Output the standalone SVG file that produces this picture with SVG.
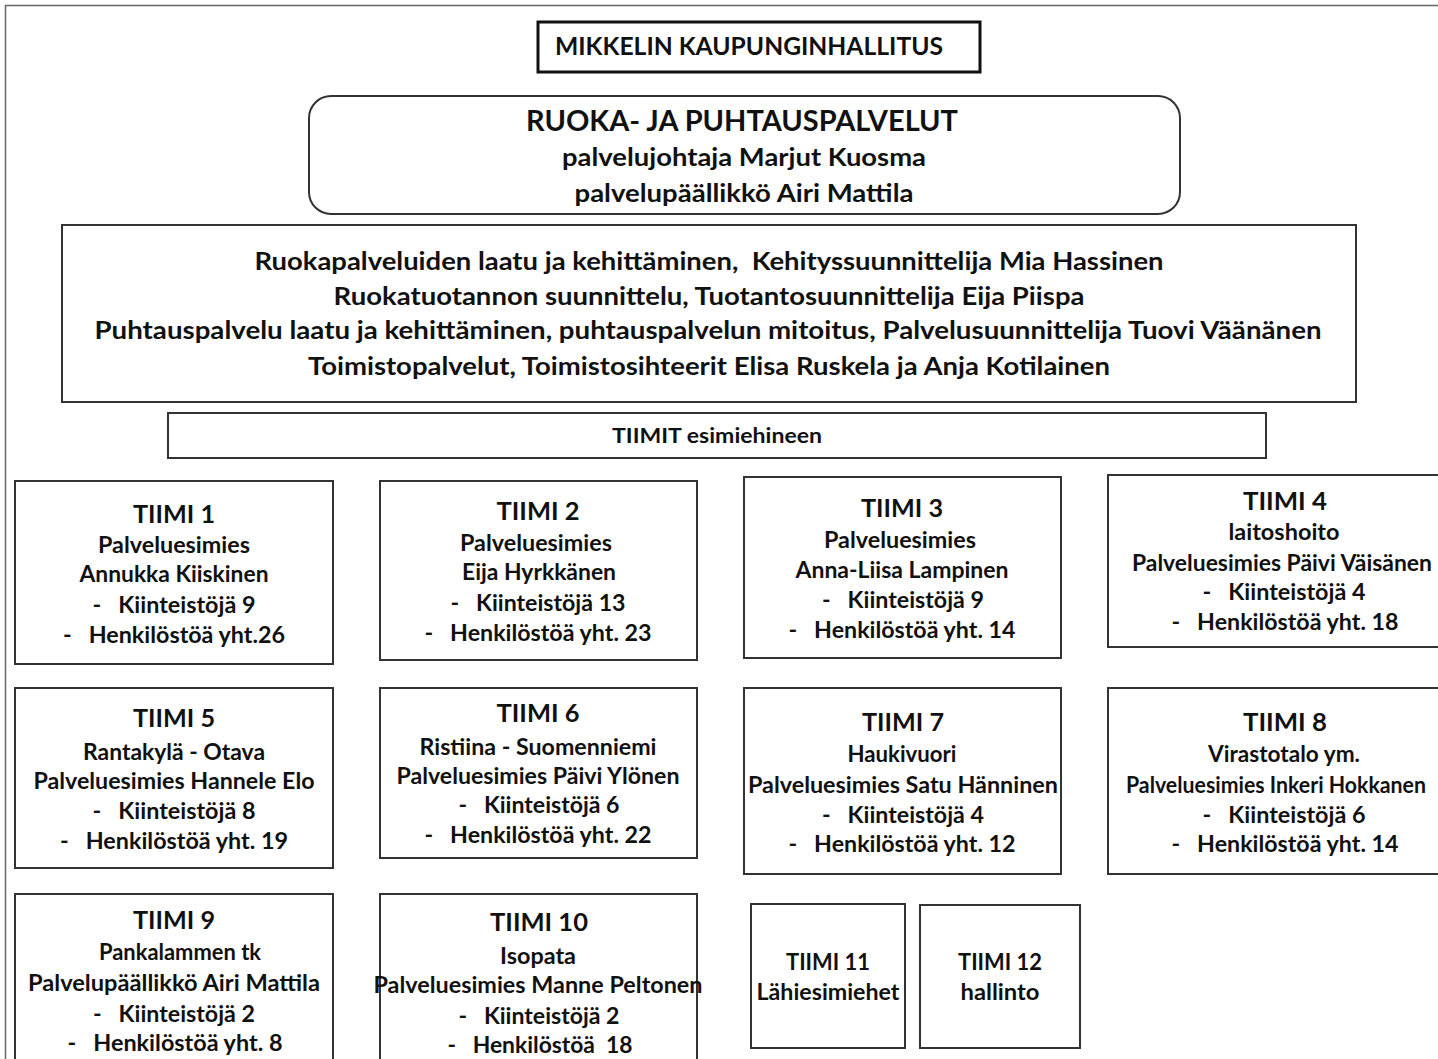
<svg xmlns="http://www.w3.org/2000/svg" width="1438" height="1059" viewBox="0 0 1438 1059">
<style>
text{font-family:Lato,"Liberation Sans",sans-serif;font-weight:bold;fill:#111;text-anchor:middle;white-space:pre}
.box{fill:#fff;stroke:#333;stroke-width:2}
.t{font-size:24px}
.s{font-size:23px}
.h{font-size:25px}
</style>
<rect width="1438" height="1059" fill="#fff"/>
<path d="M5.5 1059V5.5H1438" fill="none" stroke="#666" stroke-width="1.5"/>
<g id="kaupunginhallitus">
<rect x="538" y="22" width="442" height="50" fill="#fff" stroke="#111" stroke-width="3"/>
<text x="749" y="55" class="t" textLength="388" lengthAdjust="spacingAndGlyphs">MIKKELIN KAUPUNGINHALLITUS</text>
</g>
<g id="ruoka">
<rect x="309" y="96" width="871" height="118" rx="22" class="box"/>
<text x="742" y="131" style="font-size:29px" textLength="432" lengthAdjust="spacingAndGlyphs">RUOKA- JA PUHTAUSPALVELUT</text>
<text x="744" y="166" class="t" textLength="364" lengthAdjust="spacingAndGlyphs">palvelujohtaja Marjut Kuosma</text>
<text x="744" y="202" class="t" textLength="339" lengthAdjust="spacingAndGlyphs">palvelupäällikkö Airi Mattila</text>
</g>
<g id="suunnittelu">
<rect x="62" y="225" width="1294" height="177" class="box"/>
<text x="709" y="270" class="t" textLength="909" lengthAdjust="spacingAndGlyphs">Ruokapalveluiden laatu ja kehittäminen,  Kehityssuunnittelija Mia Hassinen</text>
<text x="709" y="305" class="t" textLength="751" lengthAdjust="spacingAndGlyphs">Ruokatuotannon suunnittelu, Tuotantosuunnittelija Eija Piispa</text>
<text x="708" y="339" class="t" textLength="1227" lengthAdjust="spacingAndGlyphs">Puhtauspalvelu laatu ja kehittäminen, puhtauspalvelun mitoitus, Palvelusuunnittelija Tuovi Väänänen</text>
<text x="709" y="375" class="t" textLength="802" lengthAdjust="spacingAndGlyphs">Toimistopalvelut, Toimistosihteerit Elisa Ruskela ja Anja Kotilainen</text>
</g>
<g id="tiimit">
<rect x="168" y="413" width="1098" height="45" class="box"/>
<text x="717" y="443" style="font-size:20px" textLength="210" lengthAdjust="spacingAndGlyphs">TIIMIT esimiehineen</text>
</g>
<g id="tiimi1">
<rect x="15" y="481" width="318" height="183" class="box"/>
<text x="174" y="523" class="h" textLength="82" lengthAdjust="spacingAndGlyphs">TIIMI 1</text>
<text x="174" y="553" class="s" textLength="152" lengthAdjust="spacingAndGlyphs">Palveluesimies</text>
<text x="174" y="582" class="s" textLength="189" lengthAdjust="spacingAndGlyphs">Annukka Kiiskinen</text>
<text x="174" y="613" class="s" textLength="163" lengthAdjust="spacingAndGlyphs">-   Kiinteistöjä 9</text>
<text x="174" y="643" class="s" textLength="222" lengthAdjust="spacingAndGlyphs">-   Henkilöstöä yht.26</text>
</g>
<g id="tiimi2">
<rect x="380" y="481" width="317" height="179" class="box"/>
<text x="538" y="520" class="h" textLength="83" lengthAdjust="spacingAndGlyphs">TIIMI 2</text>
<text x="536" y="551" class="s" textLength="152" lengthAdjust="spacingAndGlyphs">Palveluesimies</text>
<text x="539" y="580" class="s" textLength="154" lengthAdjust="spacingAndGlyphs">Eija Hyrkkänen</text>
<text x="538" y="611" class="s" textLength="175" lengthAdjust="spacingAndGlyphs">-   Kiinteistöjä 13</text>
<text x="538" y="641" class="s" textLength="227" lengthAdjust="spacingAndGlyphs">-   Henkilöstöä yht. 23</text>
</g>
<g id="tiimi3">
<rect x="744" y="477" width="317" height="181" class="box"/>
<text x="902" y="517" class="h" textLength="82" lengthAdjust="spacingAndGlyphs">TIIMI 3</text>
<text x="900" y="548" class="s" textLength="152" lengthAdjust="spacingAndGlyphs">Palveluesimies</text>
<text x="902" y="578" class="s" textLength="213" lengthAdjust="spacingAndGlyphs">Anna-Liisa Lampinen</text>
<text x="903" y="608" class="s" textLength="162" lengthAdjust="spacingAndGlyphs">-   Kiinteistöjä 9</text>
<text x="902" y="638" class="s" textLength="227" lengthAdjust="spacingAndGlyphs">-   Henkilöstöä yht. 14</text>
</g>
<g id="tiimi4">
<rect x="1108" y="475" width="340" height="172" class="box"/>
<text x="1285" y="510" class="h" textLength="84" lengthAdjust="spacingAndGlyphs">TIIMI 4</text>
<text x="1284" y="540" class="s" textLength="111" lengthAdjust="spacingAndGlyphs">laitoshoito</text>
<text x="1282" y="571" class="s" textLength="300" lengthAdjust="spacingAndGlyphs">Palveluesimies Päivi Väisänen</text>
<text x="1284" y="600" class="s" textLength="163" lengthAdjust="spacingAndGlyphs">-   Kiinteistöjä 4</text>
<text x="1285" y="630" class="s" textLength="227" lengthAdjust="spacingAndGlyphs">-   Henkilöstöä yht. 18</text>
</g>
<g id="tiimi5">
<rect x="15" y="688" width="318" height="180" class="box"/>
<text x="174" y="727" class="h" textLength="82" lengthAdjust="spacingAndGlyphs">TIIMI 5</text>
<text x="174" y="760" class="s" textLength="182" lengthAdjust="spacingAndGlyphs">Rantakylä - Otava</text>
<text x="174" y="789" class="s" textLength="281" lengthAdjust="spacingAndGlyphs">Palveluesimies Hannele Elo</text>
<text x="174" y="819" class="s" textLength="163" lengthAdjust="spacingAndGlyphs">-   Kiinteistöjä 8</text>
<text x="174" y="849" class="s" textLength="228" lengthAdjust="spacingAndGlyphs">-   Henkilöstöä yht. 19</text>
</g>
<g id="tiimi6">
<rect x="380" y="688" width="317" height="170" class="box"/>
<text x="538" y="722" class="h" textLength="83" lengthAdjust="spacingAndGlyphs">TIIMI 6</text>
<text x="538" y="755" class="s" textLength="237" lengthAdjust="spacingAndGlyphs">Ristiina - Suomenniemi</text>
<text x="538" y="784" class="s" textLength="283" lengthAdjust="spacingAndGlyphs">Palveluesimies Päivi Ylönen</text>
<text x="539" y="813" class="s" textLength="161" lengthAdjust="spacingAndGlyphs">-   Kiinteistöjä 6</text>
<text x="538" y="843" class="s" textLength="227" lengthAdjust="spacingAndGlyphs">-   Henkilöstöä yht. 22</text>
</g>
<g id="tiimi7">
<rect x="744" y="688" width="317" height="186" class="box"/>
<text x="903" y="731" class="h" textLength="82" lengthAdjust="spacingAndGlyphs">TIIMI 7</text>
<text x="902" y="762" class="s" textLength="109" lengthAdjust="spacingAndGlyphs">Haukivuori</text>
<text x="903" y="793" class="s" textLength="310" lengthAdjust="spacingAndGlyphs">Palveluesimies Satu Hänninen</text>
<text x="903" y="823" class="s" textLength="162" lengthAdjust="spacingAndGlyphs">-   Kiinteistöjä 4</text>
<text x="902" y="852" class="s" textLength="227" lengthAdjust="spacingAndGlyphs">-   Henkilöstöä yht. 12</text>
</g>
<g id="tiimi8">
<rect x="1108" y="688" width="340" height="186" class="box"/>
<text x="1285" y="731" class="h" textLength="84" lengthAdjust="spacingAndGlyphs">TIIMI 8</text>
<text x="1284" y="762" class="s" textLength="152" lengthAdjust="spacingAndGlyphs">Virastotalo ym.</text>
<text x="1276" y="793" class="s" textLength="300" lengthAdjust="spacingAndGlyphs">Palveluesimies Inkeri Hokkanen</text>
<text x="1284" y="823" class="s" textLength="163" lengthAdjust="spacingAndGlyphs">-   Kiinteistöjä 6</text>
<text x="1285" y="852" class="s" textLength="227" lengthAdjust="spacingAndGlyphs">-   Henkilöstöä yht. 14</text>
</g>
<g id="tiimi9">
<rect x="15" y="894" width="318" height="180" class="box"/>
<text x="174" y="929" class="h" textLength="82" lengthAdjust="spacingAndGlyphs">TIIMI 9</text>
<text x="180" y="960" class="s" textLength="162" lengthAdjust="spacingAndGlyphs">Pankalammen tk</text>
<text x="174" y="991" class="s" textLength="292" lengthAdjust="spacingAndGlyphs">Palvelupäällikkö Airi Mattila</text>
<text x="174" y="1022" class="s" textLength="162" lengthAdjust="spacingAndGlyphs">-   Kiinteistöjä 2</text>
<text x="175" y="1051" class="s" textLength="215" lengthAdjust="spacingAndGlyphs">-   Henkilöstöä yht. 8</text>
</g>
<g id="tiimi10">
<rect x="380" y="894" width="317" height="180" class="box"/>
<text x="539" y="931" class="h" textLength="98" lengthAdjust="spacingAndGlyphs">TIIMI 10</text>
<text x="538" y="964" class="s" textLength="76" lengthAdjust="spacingAndGlyphs">Isopata</text>
<text x="538" y="993" class="s" textLength="329" lengthAdjust="spacingAndGlyphs">Palveluesimies Manne Peltonen</text>
<text x="539" y="1024" class="s" textLength="161" lengthAdjust="spacingAndGlyphs">-   Kiinteistöjä 2</text>
<text x="540" y="1053" class="s" textLength="185" lengthAdjust="spacingAndGlyphs">-   Henkilöstöä  18</text>
</g>
<g id="tiimi11">
<rect x="751" y="904" width="154" height="144" class="box"/>
<text x="828" y="970" class="s" textLength="84" lengthAdjust="spacingAndGlyphs">TIIMI 11</text>
<text x="828" y="1000" class="s" textLength="143" lengthAdjust="spacingAndGlyphs">Lähiesimiehet</text>
</g>
<g id="tiimi12">
<rect x="920" y="905" width="160" height="143" class="box"/>
<text x="1000" y="970" class="s" textLength="84" lengthAdjust="spacingAndGlyphs">TIIMI 12</text>
<text x="1000" y="1000" class="s" textLength="79" lengthAdjust="spacingAndGlyphs">hallinto</text>
</g>
<g id="connectors"/>
</svg>
